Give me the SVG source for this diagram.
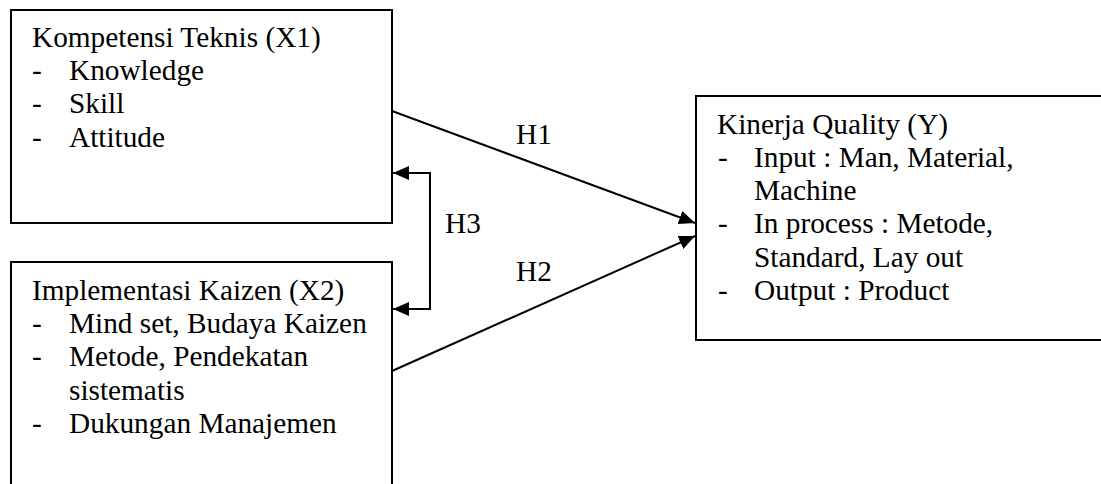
<svg xmlns="http://www.w3.org/2000/svg" width="1101" height="484" viewBox="0 0 1101 484" font-family="Liberation Serif, serif" font-size="29.3">
  <style>
    .box { fill: #ffffff; stroke: #000000; stroke-width: 2; }
    .link { fill: none; stroke: #000000; stroke-width: 2; }
  </style>
  <defs>
    <marker id="arrow" markerWidth="17" markerHeight="16" refX="16" refY="8" orient="auto" markerUnits="userSpaceOnUse">
      <path d="M0,1 L16,8 L0,15 Z" fill="#000000"/>
    </marker>
  </defs>
  <rect width="1101" height="484" fill="#ffffff"/>

  <!-- Kompetensi Teknis (X1) -->
  <g id="node-x1" font-family="Liberation Serif, serif" font-size="29.3">
    <rect class="box" x="11" y="10" width="381" height="213"/>
    <text x="32" y="47">Kompetensi Teknis (X1)</text>
    <text x="32" y="80">-</text><text x="69" y="80">Knowledge</text>
    <text x="32" y="113">-</text><text x="69" y="113">Skill</text>
    <text x="32" y="147">-</text><text x="69" y="147">Attitude</text>
  </g>

  <!-- Implementasi Kaizen (X2) -->
  <g id="node-x2" font-family="Liberation Serif, serif" font-size="29.3">
    <rect class="box" x="11" y="262" width="381" height="240"/>
    <text x="32" y="300">Implementasi Kaizen (X2)</text>
    <text x="32" y="333">-</text><text x="69" y="333">Mind set, Budaya Kaizen</text>
    <text x="32" y="366">-</text><text x="69" y="366">Metode, Pendekatan</text>
    <text x="69" y="400">sistematis</text>
    <text x="32" y="433">-</text><text x="69" y="433">Dukungan Manajemen</text>
  </g>

  <!-- Kinerja Quality (Y) -->
  <g id="node-y" font-family="Liberation Serif, serif" font-size="29.3">
    <rect class="box" x="696" y="96" width="420" height="244"/>
    <text x="717" y="134">Kinerja Quality (Y)</text>
    <text x="718" y="167">-</text><text x="754" y="167">Input : Man, Material,</text>
    <text x="754" y="200">Machine</text>
    <text x="718" y="233">-</text><text x="754" y="233">In process : Metode,</text>
    <text x="754" y="267">Standard, Lay out</text>
    <text x="718" y="300">-</text><text x="754" y="300">Output : Product</text>
  </g>

  <!-- Hypothesis paths -->
  <g id="connectors" font-family="Liberation Serif, serif" font-size="29.3">
    <line class="link" x1="392" y1="111" x2="695" y2="223" marker-end="url(#arrow)"/>
    <line class="link" x1="392" y1="371" x2="695" y2="236" marker-end="url(#arrow)"/>
    <polyline class="link" points="430,173 430,309"/>
    <line class="link" x1="431" y1="173" x2="393" y2="173" marker-end="url(#arrow)"/>
    <line class="link" x1="431" y1="309" x2="393" y2="309" marker-end="url(#arrow)"/>
    <text x="516" y="144">H1</text>
    <text x="445" y="233">H3</text>
    <text x="516" y="281">H2</text>
  </g>
</svg>
